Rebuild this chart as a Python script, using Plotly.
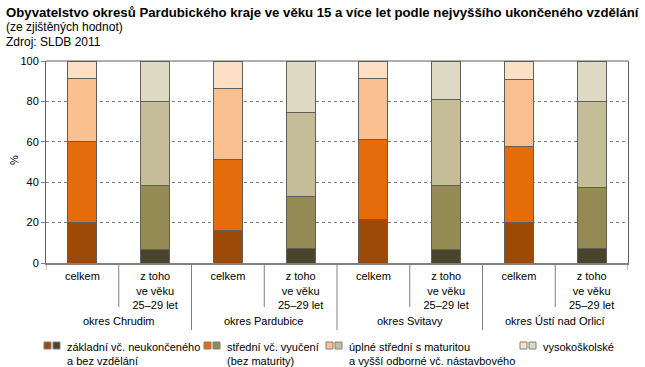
import plotly.graph_objects as go

# ---- data ----
districts = ["okres Chrudim", "okres Pardubice", "okres Svitavy", "okres Ústí nad Orlicí"]
groups = ["celkem", "z toho<br>ve věku<br>25–29 let"]
series_names = [
    "základní vč. neukončeného<br>a bez vzdělání",
    "střední vč. vyučení<br>(bez maturity)",
    "úplné střední s maturitou<br>a vyšší odborné vč. nástavbového",
    "vysokoškolské",
]
zakladni = [20.0, 6.6, 16.1, 7.2, 21.5, 6.6, 20.0, 7.2]
stredni = [40.2, 31.9, 35.2, 25.9, 39.7, 31.9, 37.9, 30.3]
uplne = [31.1, 41.5, 35.1, 41.4, 30.1, 42.4, 32.9, 42.5]
vysoko = [8.7, 20.0, 13.6, 25.5, 8.7, 19.1, 9.2, 20.0]
y_ticks = [0, 20, 40, 60, 80, 100]

colors_celkem = ["#9C4A06", "#E46C0A", "#FAC090", "#FDDFC6"]
colors_mladi = ["#4A452A", "#948A54", "#C4BD97", "#DDD9C3"]

# ---- geometry ----
W, H = 645, 367
ML, MR, MT, MB = 46, 17, 61, 104
PW, PH = W - ML - MR, H - MT - MB


def px(xp):
    return (xp - ML) / PW


def py(yp):
    return (H - MB - yp) / PH


n = len(districts) * len(groups)
xs = list(range(n))
ticktext = [g for _ in districts for g in groups]

fig = go.Figure()
for i, (name, vals) in enumerate(zip(series_names, [zakladni, stredni, uplne, vysoko])):
    cols = [colors_celkem[i] if k % 2 == 0 else colors_mladi[i] for k in xs]
    fig.add_trace(go.Bar(
        x=xs, y=vals, name=name, width=0.4,
        marker=dict(color=cols, line=dict(color="#5F5F5F", width=1)),
        showlegend=False,
    ))

shapes = []
# dividers below the axis
for k in range(n + 1):
    xb = k - 0.5
    if k == 0 or k == n:
        y1 = py(270)
    elif k % 2 == 1:
        y1 = py(307)
    else:
        y1 = py(330)
    shapes.append(dict(type="line", xref="x", yref="paper", x0=xb, x1=xb, y0=0, y1=y1,
                       line=dict(color="#808080", width=1)))

annotations = []
for d_i, d in enumerate(districts):
    annotations.append(dict(text=d, xref="x", yref="paper", x=2 * d_i + 0.5, y=py(321),
                            showarrow=False, xanchor="center", yanchor="middle",
                            font=dict(size=11, color="#000000")))

# titles
annotations.append(dict(text="<b>Obyvatelstvo okresů Pardubického kraje ve věku 15 a více let podle nejvyššího ukončeného vzdělání</b>",
                        xref="paper", yref="paper", x=px(4), y=py(12), xanchor="left", yanchor="middle",
                        showarrow=False, font=dict(size=13.2, color="#000000")))
annotations.append(dict(text="(ze zjištěných hodnot)", xref="paper", yref="paper", x=px(4), y=py(27),
                        xanchor="left", yanchor="middle", showarrow=False, font=dict(size=12, color="#000000")))
annotations.append(dict(text="Zdroj: SLDB 2011", xref="paper", yref="paper", x=px(4), y=py(42),
                        xanchor="left", yanchor="middle", showarrow=False, font=dict(size=12, color="#000000")))
annotations.append(dict(text="%", xref="paper", yref="paper", x=px(14), y=py(160), textangle=-90,
                        xanchor="center", yanchor="middle", showarrow=False, font=dict(size=11, color="#000000")))

# manual legend
legend_x = [44, 204, 326, 520]
for i, name in enumerate(series_names):
    x0 = legend_x[i]
    for j, c in enumerate([colors_celkem[i], colors_mladi[i]]):
        sx = x0 + j * 9
        shapes.append(dict(type="rect", xref="paper", yref="paper",
                           x0=px(sx), x1=px(sx + 7), y0=py(349), y1=py(342),
                           fillcolor=c, line=dict(color="#808080", width=1)))
    annotations.append(dict(text=name, xref="paper", yref="paper", x=px(x0 + 21), y=py(339),
                            xanchor="left", yanchor="top", align="left", showarrow=False,
                            font=dict(size=11, color="#000000")))

# top box line
shapes.append(dict(type="line", xref="paper", yref="paper", x0=0, x1=1, y0=1, y1=1,
                   line=dict(color="#5F5F5F", width=1)))

fig.update_layout(
    width=W, height=H,
    margin=dict(l=ML, r=MR, t=MT, b=MB, autoexpand=False),
    barmode="stack",
    plot_bgcolor="#FFFFFF", paper_bgcolor="#FFFFFF",
    font=dict(family="Liberation Sans, Arial, sans-serif", size=11, color="#000000"),
    shapes=shapes, annotations=annotations,
    showlegend=False,
    xaxis=dict(range=[-0.5, n - 0.5], tickvals=xs, ticktext=ticktext, ticks="",
               showgrid=False, zeroline=False, showline=True, linecolor="#808080", linewidth=2,
               mirror=False, tickfont=dict(size=11, color="#000000"), fixedrange=True,
               automargin=False, ticklabelstandoff=2),
    yaxis=dict(range=[0, 100], tickvals=y_ticks, ticks="outside", ticklen=4, tickcolor="#808080",
               showgrid=True, gridcolor="#808080", griddash="dot", gridwidth=1,
               zeroline=False, showline=True, linecolor="#5F5F5F", linewidth=1, mirror=True,
               tickfont=dict(size=11, color="#000000"), fixedrange=True, automargin=False),
)

fig.write_html("out.html", config={"displayModeBar": False},
               post_script="document.body.style.margin='0';document.body.style.overflow='hidden';")
